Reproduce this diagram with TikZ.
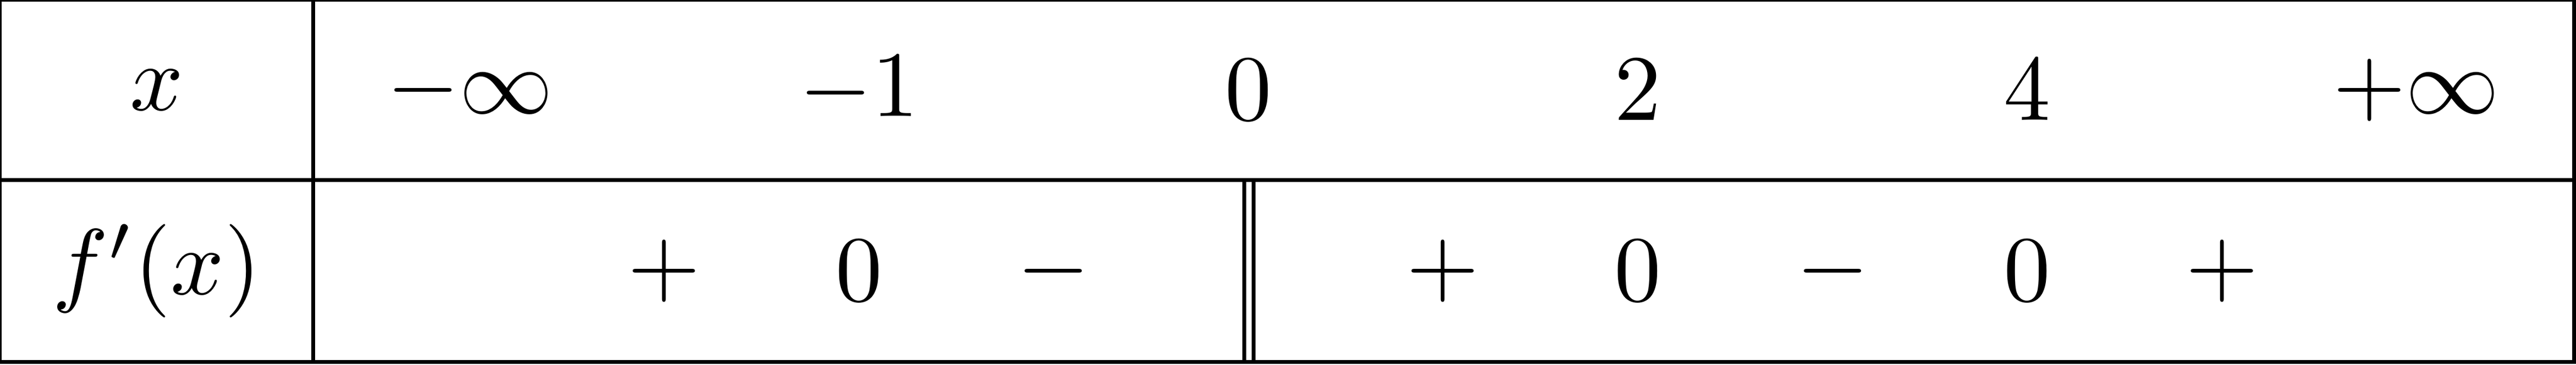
\documentclass[tikz,border=0pt]{standalone}
\begin{document}
\begin{tikzpicture}
\tikzstyle{valor}=[inner sep=0]
\tikzstyle{barra}=[line width=.4pt]
\useasboundingbox(0,0)rectangle(9.684,-1.371);
\draw[barra](0,0)rectangle(9.676,-1.361);
\draw[barra](0,-.678)--(9.676,-.678);
\draw[barra](1.178,0)--(1.178,-1.361);
\draw[barra](4.677,-.678)--(4.677,-1.361);
\draw[barra](4.712,-.678)--(4.712,-1.361);
\node[valor](x)at(.589,-.339){$x$};
\node[valor](fx)at(.589,-1.0195){$f'(x)$};
\node[valor](a1)at(1.766,-.339){$-\infty$};
\node[valor](a2)at(3.229,-.339){$-1$};
\node[valor](a3)at(4.694,-.339){$0$};
\node[valor](a4)at(6.157,-.339){$2$};
\node[valor](a5)at(7.621,-.339){$4$};
\node[valor](a6)at(9.084,-.339){$+\infty$};
\node[valor](s1)at(2.497,-1.0195){$+$};
\node[valor](s2)at(3.229,-1.0195){$0$};
\node[valor](s3)at(3.961,-1.0195){$-$};
\node[valor](s4)at(5.425,-1.0195){$+$};
\node[valor](s5)at(6.157,-1.0195){$0$};
\node[valor](s6)at(6.889,-1.0195){$-$};
\node[valor](s7)at(7.621,-1.0195){$0$};
\node[valor](s8)at(8.353,-1.0195){$+$};
\end{tikzpicture}
\end{document}
